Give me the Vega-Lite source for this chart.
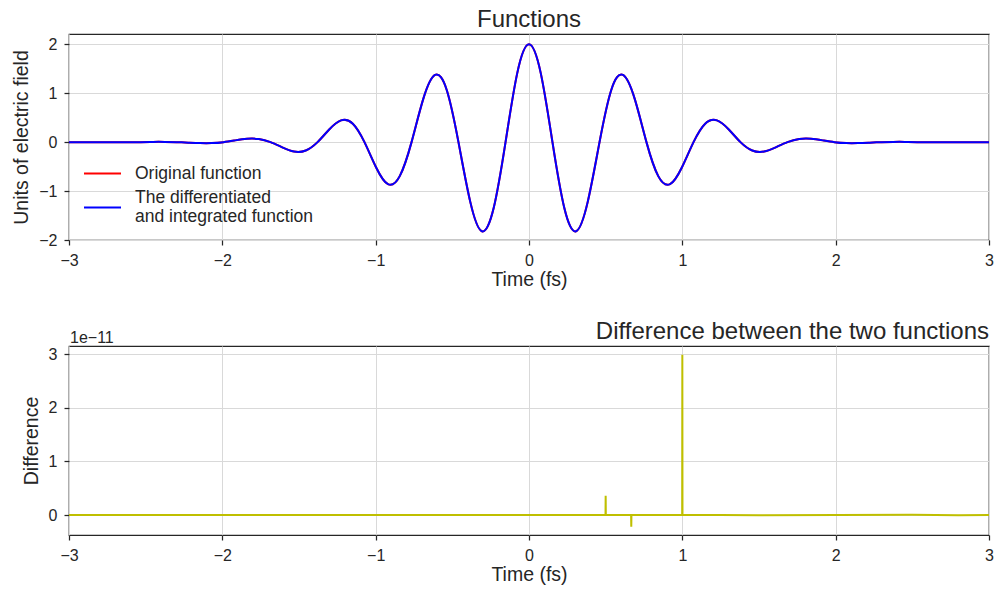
{
  "$schema": "https://vega.github.io/schema/vega-lite/v6.json",
  "padding": {"left": 11, "top": 7, "right": 0, "bottom": 3},
  "background": "white",
  "spacing": 29,
  "datasets": {
    "field": [
      {"t": -3.0, "v": 0}, {"t": -2.6, "v": 0},
      {"t": -2.452, "v": 0.005}, {"t": -2.375, "v": 0.005}, {"t": -2.299, "v": 0}, {"t": -2.222, "v": -0.010},
      {"t": -2.146, "v": -0.020}, {"t": -2.069, "v": -0.020}, {"t": -1.992, "v": 0}, {"t": -1.916, "v": 0.036},
      {"t": -1.839, "v": 0.068}, {"t": -1.762, "v": 0.063}, {"t": -1.686, "v": 0}, {"t": -1.609, "v": -0.106},
      {"t": -1.533, "v": -0.191}, {"t": -1.456, "v": -0.170}, {"t": -1.379, "v": 0}, {"t": -1.303, "v": 0.259},
      {"t": -1.226, "v": 0.445}, {"t": -1.149, "v": 0.377}, {"t": -1.073, "v": 0}, {"t": -0.996, "v": -0.524},
      {"t": -0.920, "v": -0.859}, {"t": -0.843, "v": -0.695}, {"t": -0.766, "v": 0}, {"t": -0.690, "v": 0.879},
      {"t": -0.613, "v": 1.374}, {"t": -0.536, "v": 1.061}, {"t": -0.460, "v": 0}, {"t": -0.383, "v": -1.221},
      {"t": -0.307, "v": -1.821}, {"t": -0.230, "v": -1.341}, {"t": -0.153, "v": 0}, {"t": -0.077, "v": 1.406},
      {"t": 0.0, "v": 2.0},
      {"t": 0.077, "v": 1.406}, {"t": 0.153, "v": 0}, {"t": 0.230, "v": -1.341}, {"t": 0.307, "v": -1.821},
      {"t": 0.383, "v": -1.221}, {"t": 0.460, "v": 0}, {"t": 0.536, "v": 1.061}, {"t": 0.613, "v": 1.374},
      {"t": 0.690, "v": 0.879}, {"t": 0.766, "v": 0}, {"t": 0.843, "v": -0.695}, {"t": 0.920, "v": -0.859},
      {"t": 0.996, "v": -0.524}, {"t": 1.073, "v": 0}, {"t": 1.149, "v": 0.377}, {"t": 1.226, "v": 0.445},
      {"t": 1.303, "v": 0.259}, {"t": 1.379, "v": 0}, {"t": 1.456, "v": -0.170}, {"t": 1.533, "v": -0.191},
      {"t": 1.609, "v": -0.106}, {"t": 1.686, "v": 0}, {"t": 1.762, "v": 0.063}, {"t": 1.839, "v": 0.068},
      {"t": 1.916, "v": 0.036}, {"t": 1.992, "v": 0}, {"t": 2.069, "v": -0.020}, {"t": 2.146, "v": -0.020},
      {"t": 2.222, "v": -0.010}, {"t": 2.299, "v": 0}, {"t": 2.375, "v": 0.005}, {"t": 2.452, "v": 0.005},
      {"t": 2.6, "v": 0}, {"t": 3.0, "v": 0}
    ],
    "diff": [
      {"t": -3.0, "d": 0}, {"t": 0.3, "d": 0}, {"t": 0.499, "d": 0.003}, {"t": 0.5, "d": 0.36}, {"t": 0.501, "d": 0.003},
      {"t": 0.666, "d": 0}, {"t": 0.667, "d": -0.22}, {"t": 0.668, "d": 0},
      {"t": 0.999, "d": 0.005}, {"t": 1.0, "d": 2.99}, {"t": 1.001, "d": 0.005},
      {"t": 1.5, "d": -0.004}, {"t": 2.5, "d": 0.003}, {"t": 2.8, "d": -0.004}, {"t": 3.0, "d": 0}
    ],
    "offsetText": [{"label": "1e−11"}]
  },
  "vconcat": [
    {
      "width": 920,
      "height": 206,
      "title": {"text": "Functions", "anchor": "middle", "offset": 2},
      "data": {"name": "field"},
      "encoding": {
        "x": {"field": "t", "type": "quantitative", "title": "Time (fs)",
              "scale": {"domain": [-3, 3], "nice": false},
              "axis": {"values": [-3, -2, -1, 0, 1, 2, 3], "format": "d"}},
        "y": {"field": "v", "type": "quantitative", "title": "Units of electric field",
              "scale": {"domain": [-2, 2.21], "nice": false, "zero": false},
              "axis": {"values": [-2, -1, 0, 1, 2], "format": "d"}}
      },
      "layer": [
        {
          "mark": {"type": "line", "interpolate": "natural", "strokeWidth": 2},
          "encoding": {"color": {"datum": "Original function",
            "legend": {"encode": {"labels": {"update": {
              "lineBreak": {"value": "|"},
              "lineHeight": {"value": 19},
              "dy": {"signal": "indexof(datum.label, '|') >= 0 ? -9.5 : 0"}
            }}}}}}
        },
        {
          "mark": {"type": "line", "interpolate": "natural", "strokeWidth": 2},
          "encoding": {"color": {"datum": "The differentiated|and integrated function"}}
        }
      ],
      "resolve": {"scale": {"color": "shared"}}
    },
    {
      "width": 920,
      "height": 189,
      "title": {"text": "Difference between the two functions", "anchor": "end", "offset": -14},
      "layer": [
        {
          "data": {"name": "diff"},
          "mark": {"type": "line", "color": "#bfbf00", "strokeWidth": 2},
          "encoding": {
            "x": {"field": "t", "type": "quantitative", "title": "Time (fs)",
                  "scale": {"domain": [-3, 3], "nice": false},
                  "axis": {"values": [-3, -2, -1, 0, 1, 2, 3], "format": "d"}},
            "y": {"field": "d", "type": "quantitative", "title": "Difference",
                  "scale": {"domain": [-0.373, 3.155], "nice": false, "zero": false},
                  "axis": {"values": [0, 1, 2, 3], "format": "d"}}
          }
        },
        {
          "data": {"name": "offsetText"},
          "mark": {"type": "text", "align": "left", "baseline": "alphabetic", "dy": -3, "dx": 1, "fontSize": 16, "color": "#262626"},
          "encoding": {
            "x": {"datum": -3, "type": "quantitative"},
            "y": {"datum": 3.155, "type": "quantitative"},
            "text": {"field": "label"}
          }
        }
      ]
    }
  ],
  "resolve": {"scale": {"color": "independent"}},
  "config": {
    "font": "Liberation Sans",
    "view": {"stroke": "#262626", "strokeWidth": 1.25},
    "axis": {
      "domain": false,
      "tickColor": "#262626",
      "tickSize": 5,
      "tickWidth": 1.25,
      "labelFontSize": 16,
      "labelColor": "#262626",
      "labelPadding": 7,
      "titleFontSize": 19.5,
      "titleFontWeight": "normal",
      "titleColor": "#262626",
      "gridColor": "#d9d9d9",
      "gridWidth": 1
    },
    "axisX": {"titlePadding": 2, "labelFlush": false},
    "axisY": {"titlePadding": 7},
    "title": {"fontSize": 24, "fontWeight": "normal", "color": "#262626", "frame": "group"},
    "range": {"category": ["#ff0000", "#0000ff"]},
    "legend": {
      "orient": "bottom-left",
      "title": null,
      "offset": 14,
      "padding": 0,
      "labelFontSize": 17.5,
      "labelColor": "#262626",
      "labelLimit": 400,
      "symbolType": "stroke",
      "symbolSize": 1369,
      "symbolStrokeWidth": 2,
      "labelOffset": 13,
      "rowPadding": 6,
      "labelBaseline": "middle"
    }
  }
}
